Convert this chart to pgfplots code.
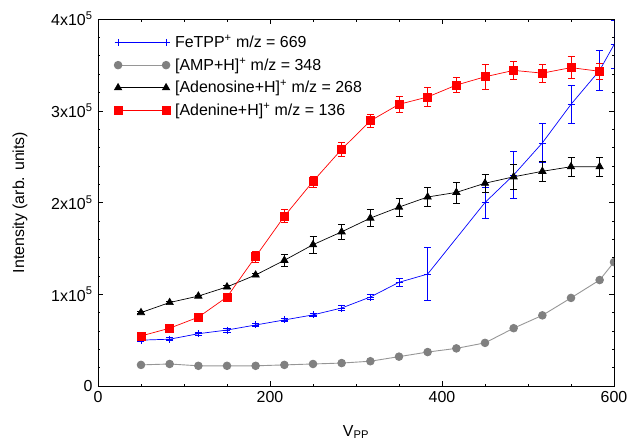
\documentclass[border=0pt]{standalone}
\usepackage{pgfplots}
\pgfplotsset{compat=1.18}
\usepackage{pgfplotstable}
\usepackage{fontspec}
\setmainfont{Liberation Sans}
\definecolor{gmark}{RGB}{128,128,128}
\definecolor{gline}{RGB}{150,150,150}

\pgfplotstableread{
x y e
50 0.50 0.015
83.3 0.51 0.015
116.7 0.57 0.02
150 0.61 0.02
183.3 0.665 0.02
216.7 0.72 0.02
250 0.775 0.02
283.3 0.85 0.025
316.7 0.97 0.03
350 1.13 0.045
383.3 1.22 0.29
450 2.00 0.17
483.3 2.30 0.26
516.7 2.65 0.21
550 3.07 0.21
583.3 3.44 0.215
600 3.72 0.26
}\fetpp

\pgfplotstableread{
x y
50 0.23
83.3 0.24
116.7 0.22
150 0.22
183.3 0.22
216.7 0.23
250 0.24
283.3 0.25
316.7 0.27
350 0.32
383.3 0.37
416.7 0.41
450 0.47
483.3 0.63
516.7 0.77
550 0.96
583.3 1.155
600 1.35
}\amp

\pgfplotstableread{
x y e
50 0.80 0.01
83.3 0.91 0.01
116.7 0.98 0.01
150 1.08 0.015
183.3 1.21 0.02
216.7 1.37 0.07
250 1.54 0.09
283.3 1.68 0.08
316.7 1.83 0.09
350 1.95 0.10
383.3 2.06 0.10
416.7 2.11 0.115
450 2.21 0.10
483.3 2.28 0.14
516.7 2.34 0.11
550 2.39 0.10
583.3 2.39 0.105
}\adenosine

\pgfplotstableread{
x y e
50 0.545 0.02
83.3 0.63 0.02
116.7 0.75 0.02
150 0.97 0.03
183.3 1.41 0.06
216.7 1.85 0.07
250 2.23 0.06
283.3 2.58 0.08
316.7 2.89 0.07
350 3.07 0.087
383.3 3.15 0.105
416.7 3.28 0.08
450 3.37 0.14
483.3 3.44 0.10
516.7 3.41 0.10
550 3.47 0.12
583.3 3.43 0.09
}\adenine

\begin{document}
\fontsize{16}{19}\selectfont
\begin{tikzpicture}
\begin{axis}[
  scale only axis, width=516bp, height=367bp,
  xmin=0, xmax=600, ymin=0, ymax=4,
  xtick={0,200,400,600}, minor x tick num=3,
  ytick={0,1,2,3,4}, minor y tick num=4,
  yticklabels={0,1x10\textsuperscript{5},2x10\textsuperscript{5},3x10\textsuperscript{5},4x10\textsuperscript{5}},
  tick align=inside, major tick length=5bp, minor tick length=2.5bp,
  tick style={black, line width=0.5pt},
  axis line style={line width=1pt},
  /pgf/number format/assume math mode=true,
  tick label style={font=\fontsize{16}{19}\selectfont},
  label style={font=\fontsize{16}{19}\selectfont},
  xlabel={V\textsubscript{PP}},
  ylabel={Intensity (arb. units)},
  xlabel style={at={(axis description cs:0.5,-0.125)}, anchor=center},
  ylabel style={at={(axis description cs:-0.151,0.5)}, anchor=center},
  clip marker paths=true,
  legend cell align=left,
  legend style={at={(axis description cs:0.025,0.968)}, anchor=north west,
    draw=none, fill=none, font=\fontsize{16}{19}\selectfont, row sep=3.6bp,
    /tikz/every odd column/.append style={column sep=3bp}},
  legend image code/.code={%
    \draw[mark repeat=2,mark phase=1,#1] plot coordinates {(0bp,0bp) (24bp,0bp) (48bp,0bp)};
  },
  error bars/error bar style={line width=0.7pt},
  error bars/error mark options={rotate=90, mark size=3.5bp, line width=0.7pt},
]
\addplot[blue, line width=0.7pt, mark=+, mark size=3.5bp,
  error bars/.cd, y dir=both, y explicit]
  table[x=x, y=y, y error=e] {\fetpp};
\addlegendentry{FeTPP\textsuperscript{+} m/z = 669}
\addplot[gline, line width=0.9pt, mark=*, mark size=3.8bp, mark options={draw=gmark, fill=gmark}]
  table[x=x, y=y] {\amp};
\addlegendentry{[AMP+H]\textsuperscript{+} m/z = 348}
\addplot[black, line width=0.7pt, mark=triangle*, mark size=4.2bp,
  error bars/.cd, y dir=both, y explicit]
  table[x=x, y=y, y error=e] {\adenosine};
\addlegendentry{[Adenosine+H]\textsuperscript{+} m/z = 268}
\addplot[red, line width=0.7pt, mark=square*, mark size=4bp,
  error bars/.cd, y dir=both, y explicit]
  table[x=x, y=y, y error=e] {\adenine};
\addlegendentry{[Adenine+H]\textsuperscript{+} m/z = 136}
\coordinate (SW) at (rel axis cs:0,0);
\coordinate (NE) at (rel axis cs:1,1);
\end{axis}
\pgfresetboundingbox
\path ([shift={(-98bp,-58bp)}]SW) rectangle ([shift={(25bp,19bp)}]NE);
\end{tikzpicture}
\end{document}
